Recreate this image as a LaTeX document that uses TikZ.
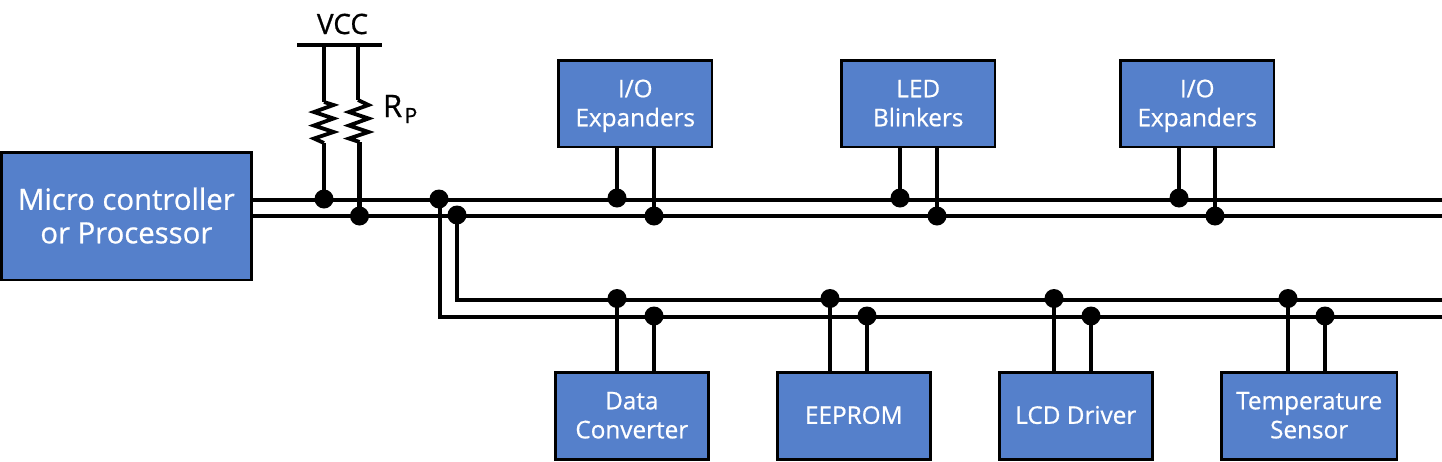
\documentclass[tikz,border=0pt]{standalone}
\usepackage{fontspec}
\newfontfamily\heavy{Open Sans}[FakeBold=0.7]
\newcommand{\chiptop}{\rule{0pt}{23pt}}
\newcommand{\chipbot}{\rule[-7pt]{0pt}{1pt}}
\newcommand{\bigtop}{\rule{0pt}{32pt}}
\newcommand{\bigbot}{\rule[-11pt]{0pt}{1pt}}
\definecolor{boxblue}{HTML}{5580CB}
\tikzset{
 chip/.style={draw=black,line width=2.6pt,fill=boxblue,text=white,anchor=north west,inner sep=0pt,outer sep=0pt,align=center,font=\heavy\fontsize{24.3}{29}\selectfont},
 wire/.style={line width=4.2pt,line cap=butt,line join=miter},
 zig/.style={line width=3.8pt,line cap=butt,line join=miter},
 dot/.style={circle,fill=black,inner sep=0pt,outer sep=0pt,minimum size=19pt},
 lbl/.style={inner sep=0pt,outer sep=0pt,text=black}
}
\begin{document}
\begin{tikzpicture}[x=1pt,y=-1pt]
\useasboundingbox (0,0) rectangle (1442,461);
% coordinates
\coordinate (m1) at (252,200); \coordinate (m2) at (252,216);
\coordinate (e1) at (1442,200); \coordinate (e2) at (1442,216);
\coordinate (f1) at (1442,300); \coordinate (f2) at (1442,317);
\coordinate (c1) at (440,317); \coordinate (c2) at (457,300);
\coordinate (va) at (297,45); \coordinate (vb) at (382,45);
\coordinate (t1) at (324,45); \coordinate (t2) at (358,45);
\coordinate (r1a) at (324,102); \coordinate (r1b) at (324,143);
\coordinate (r2a) at (358,100); \coordinate (r2b) at (359.5,142);
% junction dots
\node[dot] (d1) at (324,199) {};
\node[dot] (d2) at (359.5,216) {};
\node[dot] (d3) at (439,199) {};
\node[dot] (d4) at (457,215) {};
\node[dot] (a1) at (617,198) {};
\node[dot] (a2) at (654,216) {};
\node[dot] (a3) at (900,198) {};
\node[dot] (a4) at (937,216) {};
\node[dot] (a5) at (1179,198) {};
\node[dot] (a6) at (1215,216) {};
\node[dot] (b1) at (617,298.5) {};
\node[dot] (b2) at (654,316) {};
\node[dot] (b3) at (830,298.5) {};
\node[dot] (b4) at (867,316) {};
\node[dot] (b5) at (1054,298.5) {};
\node[dot] (b6) at (1091,316) {};
\node[dot] (b7) at (1288,298.5) {};
\node[dot] (b8) at (1325,316) {};
% boxes
\node[chip,minimum width=250.3pt,minimum height=127.5pt,font=\heavy\fontsize{29.3}{33.5}\selectfont] (mcu) at (1.2,152.3) {\bigtop Micro controller\\\bigbot or Processor};
\node[chip,minimum width=153.5pt,minimum height=86.5pt] (io1) at (558.5,60.5) {\chiptop I/O\\\chipbot Expanders};
\node[chip,minimum width=153.5pt,minimum height=86.5pt] (led) at (841.5,60.5) {\chiptop LED\\\chipbot Blinkers};
\node[chip,minimum width=153.5pt,minimum height=86.5pt] (io2) at (1120.5,60.5) {\chiptop I/O\\\chipbot Expanders};
\node[chip,minimum width=153pt,minimum height=87pt] (dc) at (555.3,372.3) {\chiptop Data\\\chipbot Converter};
\node[chip,minimum width=153pt,minimum height=87pt] (ee) at (777.3,372.3) {\chiptop\chipbot EEPROM};
\node[chip,minimum width=153pt,minimum height=87pt] (lcd) at (999.3,372.3) {\chiptop\chipbot LCD Driver};
\node[chip,minimum width=175.7pt,minimum height=87pt] (ts) at (1221.3,372.3) {\chiptop Temperature\\\chipbot Sensor};
% buses
\draw[wire] (m1) -- (e1);
\draw[wire] (m2) -- (e2);
\draw[wire] (d3.center -| c1) -- (c1) -- (f2);
\draw[wire] (d4.center) -- (c2) -- (f1);
\draw[wire] (va) -- (vb);
% pull-ups
\draw[wire] (t1) -- (r1a);
\draw[wire] (r1b) -- (d1.center);
\draw[zig] (r1a) -- ++(9.5,3) -- ++(-19.5,7) -- ++(19.5,6.5) -- ++(-19.5,7) -- ++(19.5,6.5) -- ++(-19.5,6.5) -- (r1b);
\draw[wire] (t2) -- (r2a);
\draw[wire] (r2b) -- (d2.center);
\draw[zig] (r2a) -- ++(10.5,5) -- ++(-19.5,7) -- ++(19.5,6.5) -- ++(-19.5,7) -- ++(19.5,6.5) -- ++(-19.5,6.5) -- (r2b);
% stubs
\foreach \d/\b in {a1/io1,a2/io1,a3/led,a4/led,a5/io2,a6/io2}{
  \draw[wire] (\d.center) -- (\d.center |- \b.south);
}
\foreach \d/\b in {b1/dc,b2/dc,b3/ee,b4/ee,b5/lcd,b6/lcd,b7/ts,b8/ts}{
  \draw[wire] (\d.center) -- (\d.center |- \b.north);
}
% labels
\node[lbl,font=\heavy\fontsize{28}{30}\selectfont,anchor=base] (vcc) at (342.5,34) {VCC};
\node[lbl,font=\heavy\fontsize{31}{30}\selectfont,anchor=base west] (rp) at (383,117) {R\kern2.5pt\raisebox{-6pt}{\fontsize{21}{20}\selectfont P}};
\end{tikzpicture}
\end{document}
